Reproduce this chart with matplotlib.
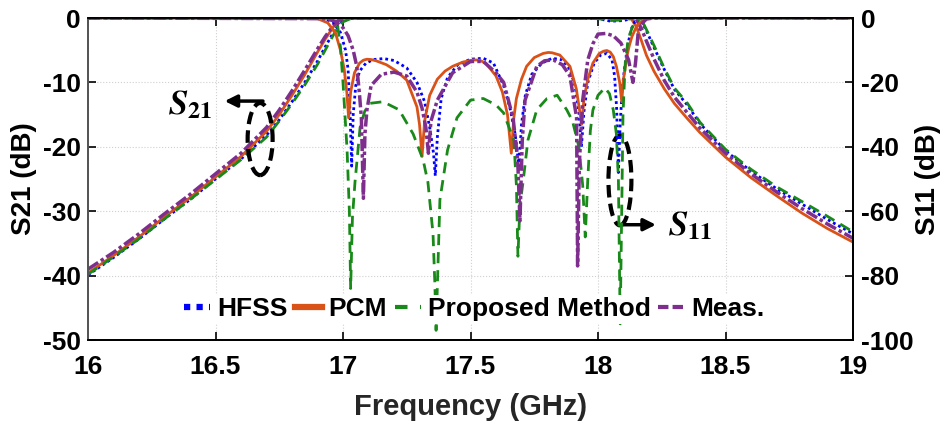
import matplotlib
matplotlib.use('Agg')
import matplotlib.pyplot as plt
from matplotlib.lines import Line2D
from matplotlib.patches import Ellipse

# ---------------- data ----------------
# S21 (left axis, dB) sampled at a common frequency list (GHz)
f21 = [16.0, 16.1, 16.2, 16.3, 16.4, 16.5, 16.6, 16.7, 16.75, 16.8, 16.85, 16.9,
       16.93, 16.96, 16.98, 17.0, 17.03, 17.5, 18.0, 18.05, 18.1, 18.13, 18.15,
       18.17, 18.19, 18.22, 18.26, 18.3, 18.35, 18.4, 18.5, 18.6, 18.7, 18.8, 18.9, 19.0]
s21_hfss = [-39.9, -37.2, -34.3, -31.2, -28.2, -25.0, -21.9, -18.2, -15.8, -13.0, -10.0, -6.7,
            -4.5, -2.4, -1.2, -0.4, -0.1, 0, -0.1, -0.5, -0.4, -0.1, 0,
            -0.4, -2.0, -4.6, -8.0, -11.1, -13.5, -16.4, -20.6, -23.8, -26.5, -28.9, -31.3, -33.5]
s21_pcm = [-39.6, -36.9, -34.0, -30.9, -27.9, -24.7, -21.5, -17.6, -15.0, -12.0, -8.8, -5.3,
           -3.3, -1.5, -0.5, -0.1, 0, 0, 0, 0, 0, -0.1, -1.3,
           -3.5, -5.8, -8.3, -11.0, -13.3, -15.6, -17.8, -21.6, -24.8, -27.6, -30.3, -32.7, -34.8]
s21_prop = [-39.8, -37.1, -34.3, -31.2, -28.2, -25.1, -22.0, -18.5, -16.0, -13.3, -10.4, -7.2,
            -5.0, -2.8, -1.5, -0.6, -0.1, 0, -0.1, -0.4, -0.3, -0.1, 0,
            -0.2, -1.8, -4.3, -7.8, -10.9, -13.2, -16.2, -20.4, -23.5, -26.2, -28.5, -30.8, -33.2]
s21_meas = [-39.0, -36.4, -33.5, -30.4, -27.4, -24.2, -21.0, -17.0, -14.3, -11.3, -8.1, -4.8,
            -2.9, -1.3, -0.4, -0.1, 0, 0, 0, 0, 0, 0, -0.2,
            -1.6, -3.6, -6.4, -9.7, -12.3, -14.7, -17.1, -21.0, -24.2, -27.0, -29.6, -32.0, -34.2]

# S11 (right axis, dB)
f11_hfss = [16.0, 16.92, 16.96, 16.99, 17.01, 17.02, 17.028, 17.034, 17.04, 17.05, 17.065, 17.09,
            17.12, 17.16, 17.2, 17.25, 17.29, 17.32, 17.34, 17.355, 17.362, 17.37, 17.385, 17.41,
            17.45, 17.5, 17.55, 17.59, 17.63, 17.655, 17.675, 17.69, 17.7, 17.715, 17.74, 17.78,
            17.82, 17.86, 17.89, 17.91, 17.925, 17.935, 17.945, 17.96, 17.985, 18.01, 18.035,
            18.055, 18.065, 18.073, 18.08, 18.087, 18.095, 18.105, 18.118, 18.13, 18.145, 18.17, 19.0]
s11_hfss = [0, -0.1, -1.2, -4.5, -10, -16, -30, -46, -30, -21, -16.5, -14,
            -12.9, -12.6, -13.2, -15.5, -20, -26, -34, -42, -49, -37, -25, -18.5,
            -14.5, -12.8, -12.5, -14, -21, -28, -36, -46, -33, -24, -17.5, -14,
            -12.5, -13, -16, -21, -29, -40, -29, -20, -14, -11.5, -11,
            -13, -18, -28, -48, -33, -22, -15, -8, -3.5, -1, 0, 0]

f11_pcm = [16.0, 16.9, 16.94, 16.97, 16.99, 17.005, 17.015, 17.022, 17.03, 17.045, 17.065, 17.08,
           17.094, 17.11, 17.13, 17.17, 17.21, 17.25, 17.29, 17.3, 17.31, 17.32, 17.34, 17.37,
           17.4, 17.43, 17.47, 17.51, 17.535, 17.56, 17.6, 17.625, 17.645, 17.66, 17.67, 17.68,
           17.7, 17.72, 17.75, 17.785, 17.805, 17.82, 17.85, 17.89, 17.915, 17.936, 17.945, 17.96,
           17.98, 18.005, 18.022, 18.035, 18.048, 18.06, 18.072, 18.085, 18.093, 18.1, 18.113,
           18.123, 18.133, 18.15, 18.165, 18.19, 18.22, 19.0]
s11_pcm = [0, -0.2, -1.5, -4.5, -10, -16, -23, -31, -23, -17, -14, -13.1,
           -12.8, -12.9, -13.3, -14.5, -16.5, -19.3, -27.6, -33, -43, -32, -24, -19,
           -16.5, -15, -13.7, -13, -13.1, -14, -18, -23, -30, -42, -31, -25,
           -19, -15, -12.3, -11, -10.7, -10.8, -11.5, -15, -22, -33, -25, -19,
           -14, -11, -10.3, -10.1, -10.6, -12, -15, -20, -26, -19, -12,
           -8.5, -5.8, -2.8, -1.4, -0.3, 0, 0]

f11_prop = [16.0, 16.94, 16.965, 16.98, 16.99, 17.0, 17.016, 17.025, 17.03, 17.037, 17.047, 17.067,
            17.085, 17.106, 17.157, 17.22, 17.275, 17.314, 17.333, 17.353, 17.36, 17.365, 17.372,
            17.38, 17.41, 17.447, 17.5, 17.55, 17.6, 17.63, 17.67, 17.68, 17.686, 17.694, 17.706,
            17.725, 17.76, 17.8, 17.84, 17.878, 17.9, 17.925, 17.94, 17.95, 17.96, 17.97, 17.98,
            18.0, 18.027, 18.045, 18.06, 18.072, 18.08, 18.087, 18.093, 18.098, 18.106, 18.116,
            18.126, 18.14, 18.153, 18.18, 19.0]
s11_prop = [0, -0.1, -0.6, -3, -9, -20, -41, -60, -84, -62, -51, -34,
            -29, -26.5, -26, -28.5, -36, -44, -51, -67, -82, -97, -78,
            -56.5, -41, -31, -25.5, -25, -27, -29.5, -38, -52, -74, -58, -51,
            -38, -28.5, -25, -24, -28.6, -32, -40, -52, -68, -50, -35, -28.6,
            -24, -21.7, -23.5, -28.6, -36, -50, -95, -60, -30, -15, -8,
            -4.7, -1.8, -0.6, 0, 0]

f11_meas = [16.0, 16.93, 16.97, 17.0, 17.02, 17.04, 17.054, 17.065, 17.072, 17.08, 17.086, 17.094,
            17.11, 17.15, 17.2, 17.25, 17.29, 17.31, 17.325, 17.335, 17.345, 17.37, 17.43, 17.5,
            17.55, 17.6, 17.63, 17.667, 17.685, 17.694, 17.703, 17.714, 17.76, 17.79, 17.824,
            17.86, 17.89, 17.916, 17.92, 17.927, 17.94, 17.96, 17.98, 18.0, 18.03, 18.06, 18.09,
            18.12, 18.137, 18.147, 18.157, 18.175, 18.19, 18.22, 19.0]
s11_meas = [0, -0.2, -1, -3, -5.5, -10, -15, -24, -31, -56, -36, -28.5,
            -21, -17.5, -16.8, -18, -23, -28, -34, -42, -32, -25.5, -17, -13.5,
            -13.5, -17, -20, -31, -44, -63, -38, -25.5, -15, -13.3, -13,
            -14.5, -18, -31, -77, -45, -25.5, -13, -8, -5, -4.8, -5.5, -7.8,
            -13, -20, -14, -5, -1.5, -0.3, 0, 0]

series_names = ['HFSS', 'PCM', 'Proposed Method', 'Meas.']
x_ticks = [16, 16.5, 17, 17.5, 18, 18.5, 19]
x_ticklabels = ['16', '16.5', '17', '17.5', '18', '18.5', '19']
y21_ticks = [0, -10, -20, -30, -40, -50]
y11_ticks = [0, -20, -40, -60, -80, -100]

# ---------------- style ----------------
plt.rcParams['font.family'] = ['Liberation Sans', 'DejaVu Sans']
plt.rcParams['font.weight'] = 'bold'
plt.rcParams['axes.unicode_minus'] = False
plt.rcParams['mathtext.fontset'] = 'stix'

c_hfss = '#0000FF'
c_pcm = '#D95319'
c_prop = '#198A19'
c_meas = '#7E2F8E'
st_hfss = dict(color=c_hfss, lw=2.0, ls=(0, (1, 1.1)))
st_pcm = dict(color=c_pcm, lw=2.0, ls='-')
st_prop = dict(color=c_prop, lw=2.0, ls=(0, (4, 2.5)))
st_meas = dict(color=c_meas, lw=2.5, ls=(0, (3.5, 0.9, 1, 0.9)))

fig = plt.figure(figsize=(9.48, 4.21), dpi=100)
ax = fig.add_axes([88 / 948, 1 - 340 / 421, 765 / 948, 322 / 421])
ax2 = ax.twinx()

for fx, vals, st in [(f21, s21_hfss, st_hfss), (f21, s21_pcm, st_pcm),
                     (f21, s21_prop, st_prop), (f21, s21_meas, st_meas)]:
    ax.plot(fx, vals, **st)
for fx, vals, st in [(f11_hfss, s11_hfss, st_hfss), (f11_pcm, s11_pcm, st_pcm),
                     (f11_prop, s11_prop, st_prop), (f11_meas, s11_meas, st_meas)]:
    ax2.plot(fx, vals, **st)

ax.set_xlim(16, 19)
ax.set_ylim(-50, 0)
ax2.set_ylim(-100, 0)
ax.set_xticks(x_ticks)
ax.set_xticklabels(x_ticklabels)
ax.set_yticks(y21_ticks)
ax2.set_yticks(y11_ticks)

ax.grid(True, color='#d0d0d0', ls=':', lw=0.8)
ax.tick_params(axis='both', direction='in', length=6, width=1.2, labelsize=19, top=True)
ax.tick_params(axis='x', pad=11)
ax.tick_params(axis='y', pad=5)
ax2.tick_params(axis='y', direction='in', length=6, width=1.2, labelsize=19, pad=6)
for a in (ax, ax2):
    for s in a.spines.values():
        s.set_linewidth(1.3)
        s.set_color('black')
ax.spines['left'].set_color('#555555')
ax2.spines['left'].set_color('#555555')

ax.set_xlabel('Frequency (GHz)', fontsize=21, fontweight='bold', color='#262626', labelpad=10)
ax.set_ylabel('S21 (dB)', fontsize=20, fontweight='bold', labelpad=4)
ax2.set_ylabel('S11 (dB)', fontsize=20, fontweight='bold', labelpad=1)

# annotations
ax.add_patch(Ellipse((16.675, -18.8), 0.098, 11.2, fill=False, ec='black', lw=3,
                     ls=(0, (3, 1.5)), zorder=5))
ax.add_patch(Ellipse((18.086, -25.2), 0.09, 14.0, fill=False, ec='black', lw=3,
                     ls=(0, (3, 1.5)), zorder=5))
ax.annotate('', xy=(16.525, -12.9), xytext=(16.697, -12.9),
            arrowprops=dict(arrowstyle='-|>', lw=2.5, color='black', mutation_scale=18))
ax.annotate('', xy=(18.238, -32.1), xytext=(18.078, -32.1),
            arrowprops=dict(arrowstyle='-|>', lw=2.5, color='black', mutation_scale=18))
ax.text(16.40, -13.4, r'$S_{21}$', fontsize=25, ha='center', va='center')
ax.text(18.36, -32.2, r'$S_{11}$', fontsize=25, ha='center', va='center')

# legend
handles = [Line2D([], [], color=c_hfss, lw=4.5, ls=(0, (1, 1))),
           Line2D([], [], color=c_pcm, lw=4.5, ls='-'),
           Line2D([], [], color=c_prop, lw=3, ls=(0, (3, 3))),
           Line2D([], [], color=c_meas, lw=3, ls=(0, (2.5, 1)))]
leg = ax2.legend(handles, series_names, loc='center', bbox_to_anchor=(0.505, 0.095),
                 ncol=4, frameon=True, fancybox=False, framealpha=1, edgecolor='none',
                 facecolor='white', handlelength=1.0, handletextpad=0.25,
                 columnspacing=0.3, borderpad=0.1, borderaxespad=0,
                 prop=dict(weight='bold', size=19))
leg.set_zorder(10)

fig.savefig('out.png', dpi=100)
